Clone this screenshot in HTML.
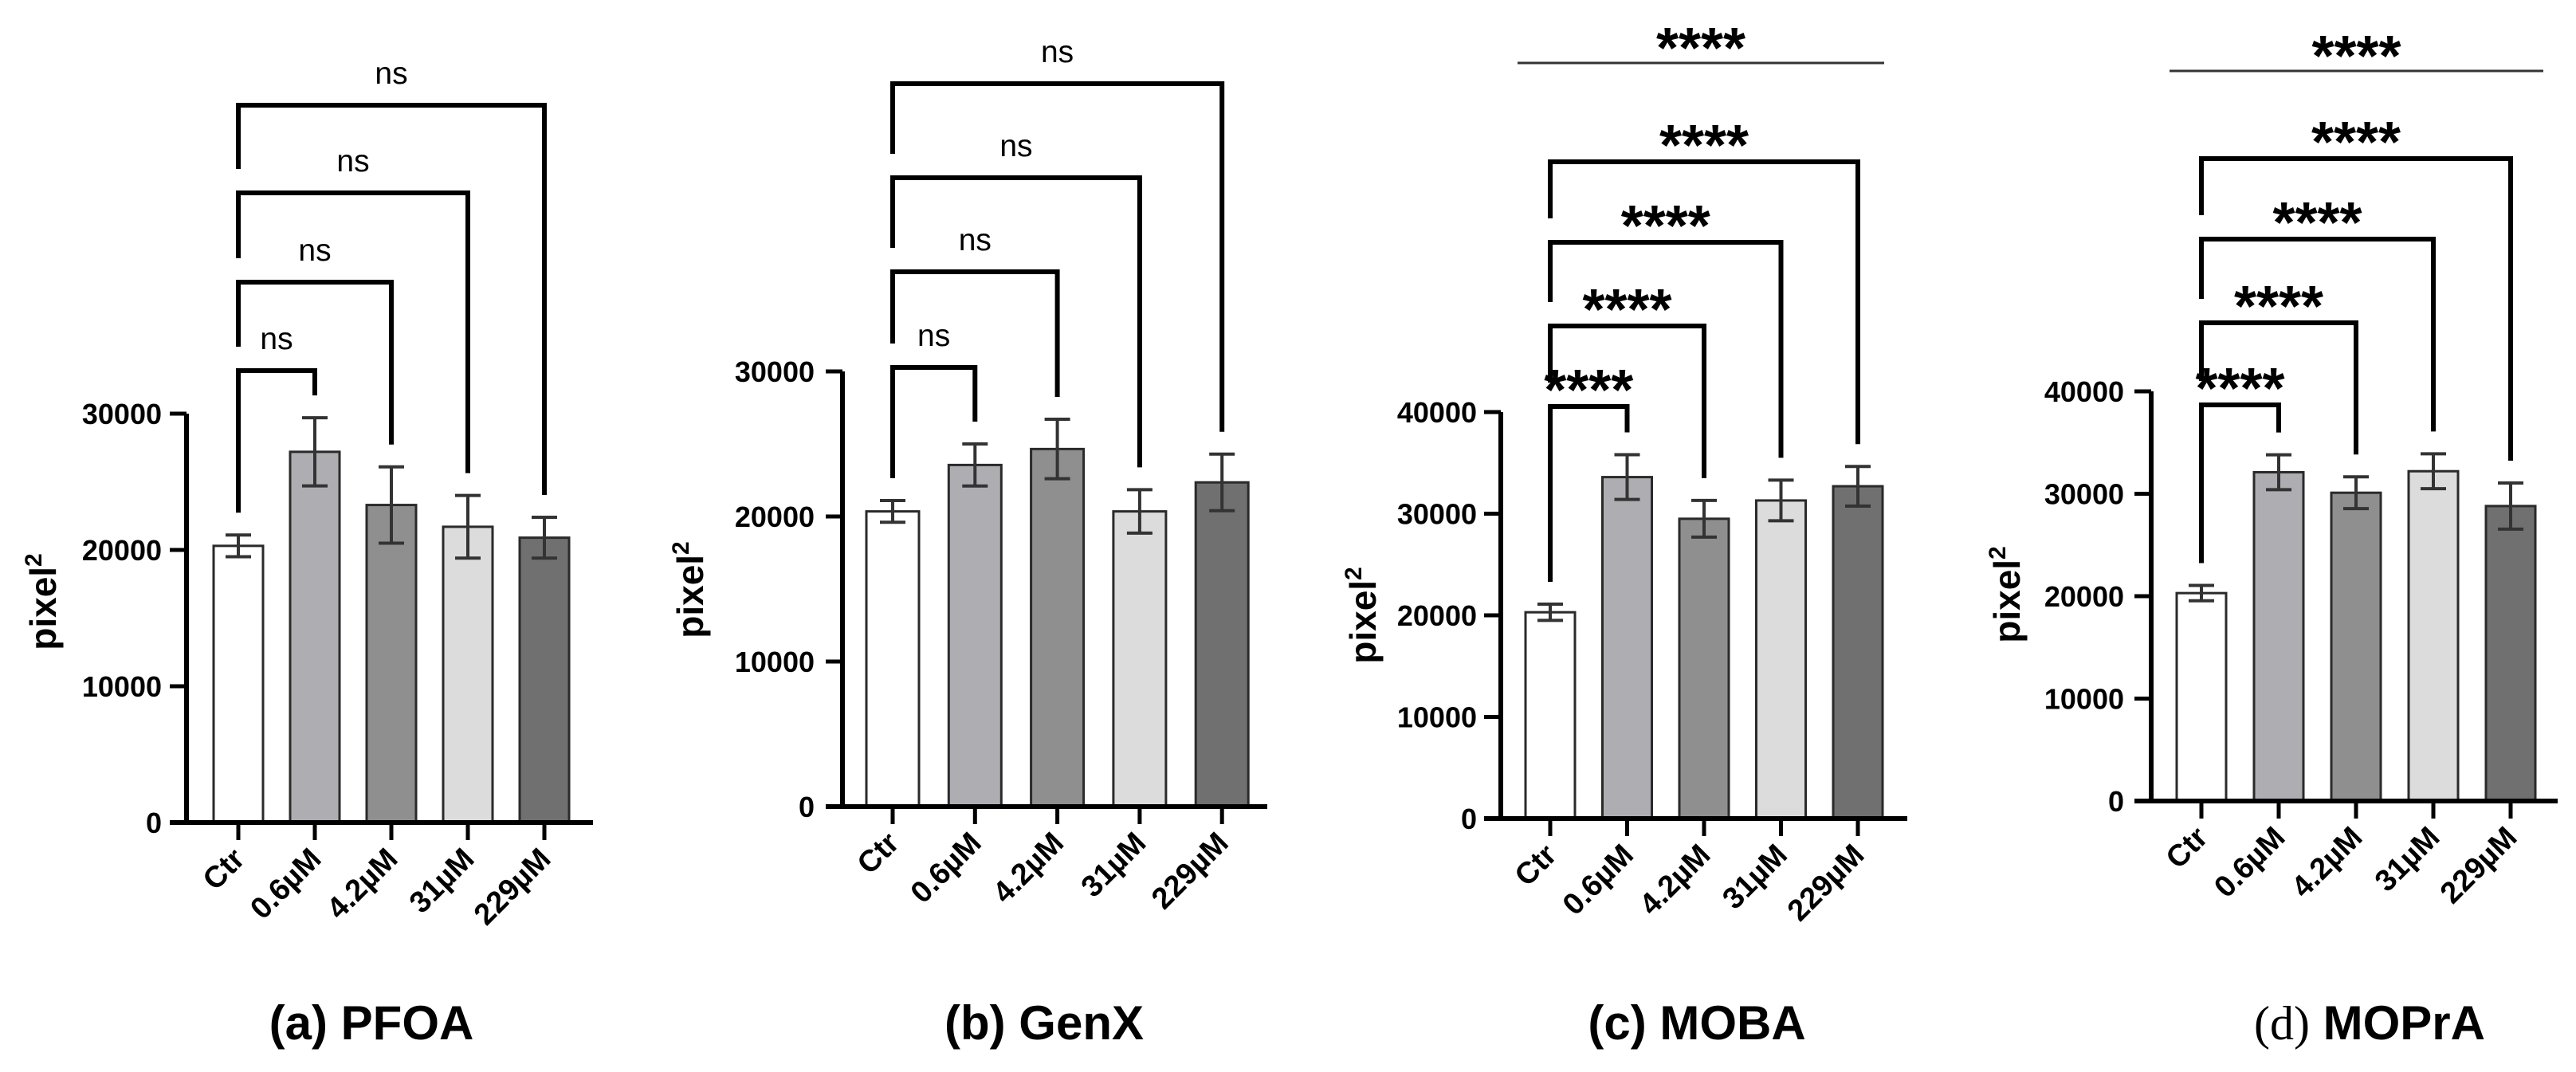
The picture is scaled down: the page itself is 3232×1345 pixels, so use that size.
<!DOCTYPE html>
<html><head><meta charset="utf-8"><style>
html,body{margin:0;padding:0;background:#fff;}
svg{display:block;font-family:"Liberation Sans",Arial,sans-serif;}
</style></head><body>
<svg id="fig" width="3232" height="1345" viewBox="0 0 3232 1345" xmlns="http://www.w3.org/2000/svg"></svg>
<script>
const categories = ["Ctr","0.6µM","4.2µM","31µM","229µM"];
const pfoaMeans = [20300,27200,23300,21700,20900];
const pfoaErr = [800,2500,2800,2300,1500];
const genxMeans = [20350,23550,24650,20350,22350];
const genxErr = [750,1450,2050,1500,1950];
const mobaMeans = [20300,33600,29500,31300,32700];
const mobaErr = [800,2200,1800,2000,1950];
const mopraMeans = [20300,32100,30100,32200,28800];
const mopraErr = [750,1700,1550,1700,2250];
const ticksA = [0,10000,20000,30000];
const ticksB = [0,10000,20000,30000];
const ticksC = [0,10000,20000,30000,40000];
const ticksD = [0,10000,20000,30000,40000];
const sigA = ["ns","ns","ns","ns"];
const sigB = ["ns","ns","ns","ns"];
const sigC = ["****","****","****","****"];
const sigD = ["****","****","****","****"];
const titles = ["PFOA","GenX","MOBA","MOPrA"];
const letters = ["(a)","(b)","(c)","(d)"];

const fills = ["#ffffff","#aeadb2","#8f8f8f","#dcdcdc","#707070"];
const NS = "http://www.w3.org/2000/svg";
const svg = document.getElementById("fig");
function mk(tag, attrs, parent){const e=document.createElementNS(NS,tag);for(const k in attrs)e.setAttribute(k,attrs[k]);(parent||svg).appendChild(e);return e;}

const panels = [
 {means:pfoaMeans, err:pfoaErr, ticks:ticksA, sig:sigA, ax:234, x0:299, step:96, bw:62, base:1032, pxPer:171/10000, xEnd:744, tickLblR:203, ylx:54, yly:755, brTops:[465,354,242,132], titleX:466, top:null},
 {means:genxMeans, err:genxErr, ticks:ticksB, sig:sigB, ax:1057, x0:1120, step:103.3, bw:66, base:1012, pxPer:182/10000, xEnd:1590, tickLblR:1022, ylx:866, yly:740, brTops:[461,341,223,105], titleX:1310, top:null},
 {means:mobaMeans, err:mobaErr, ticks:ticksC, sig:sigC, ax:1883, x0:1945, step:96.5, bw:62, base:1027, pxPer:127.5/10000, xEnd:2393, tickLblR:1853, ylx:1710, yly:772, brTops:[510,409,304,203], titleX:2129, top:{y:79,x1:1904,x2:2364}},
 {means:mopraMeans, err:mopraErr, ticks:ticksD, sig:sigD, ax:2699, x0:2762, step:97, bw:62, base:1005, pxPer:128.5/10000, xEnd:3209, tickLblR:2665, ylx:2518, yly:746, brTops:[508,405,300,199], titleX:2973, top:{y:89,x1:2722,x2:3191}}
];

panels.forEach((p,pi)=>{
  const g = mk("g",{});
  
  
  const y = v => p.base - v*p.pxPer;
  const xc = i => p.x0 + i*p.step;
  const isStar = p.sig[0]==="****";
  // bars
  p.means.forEach((m,i)=>{
    const r = mk("rect",{x:xc(i)-p.bw/2,y:y(m),width:p.bw,height:p.base-y(m),fill:fills[i],stroke:"#2a2a2a","stroke-width":3},g);
    
    
    const e = mk("path",{d:`M${xc(i)},${y(m+p.err[i])}V${y(m-p.err[i])}M${xc(i)-16},${y(m+p.err[i])}h32M${xc(i)-16},${y(m-p.err[i])}h32`,stroke:"#333",fill:"none","stroke-width":4},g);
    
    
  });
  // axes
  const maxT = p.ticks[p.ticks.length-1];
  const ya = mk("path",{d:`M${p.ax},${y(maxT)}V${p.base}`,stroke:"#000","stroke-width":6,fill:"none"},g);
  
  
  const xa = mk("path",{d:`M${p.ax-21},${p.base}H${p.xEnd}`,stroke:"#000","stroke-width":6,fill:"none"},g);
  
  
  p.ticks.forEach(t=>{
    mk("path",{d:`M${p.ax-21},${y(t)}H${p.ax}`,stroke:"#000","stroke-width":5},g);
    const tl = mk("text",{x:p.tickLblR,y:y(t)+13,"text-anchor":"end","font-size":36,"font-weight":"bold"},g);
    tl.textContent = t;
    
    
  });
  categories.forEach((c,i)=>{
    mk("path",{d:`M${xc(i)},${p.base}v22`,stroke:"#000","stroke-width":5},g);
    const t = mk("text",{x:0,y:0,"text-anchor":"end","font-size":38,"font-weight":"bold",transform:`translate(${xc(i)+10},${p.base+48}) rotate(-45)`},g);
    t.textContent = c;
    
    
  });
  // y label
  const yl = mk("text",{x:0,y:0,"text-anchor":"middle","font-size":46,"font-weight":"bold",transform:`translate(${p.ylx+16},${p.yly}) rotate(-90)`},g);
  yl.innerHTML = 'pixel<tspan font-size="30" dy="-18">2</tspan>';
  
  
  // brackets
  for(let k=0;k<4;k++){
    const tgt = k+1;
    const top = p.brTops[k];
    const rEnd = y(p.means[tgt]+p.err[tgt]) - 28;
    const lEnd = k===0 ? y(p.means[0]+p.err[0]) - 28 : p.brTops[k-1] - 30;
    const b = mk("path",{d:`M${xc(0)},${lEnd}V${top}H${xc(tgt)}V${rEnd}`,stroke:"#000","stroke-width":6,fill:"none"},g);
    
    
    const mx = (xc(0)+xc(tgt))/2;
    const st = mk("text",{x:mx,y:isStar? top-34+38 : top-27,"text-anchor":"middle","font-size":isStar?72:39,"font-weight":isStar?"bold":"normal"},g);
    st.textContent = p.sig[k];
    
    
  }
  if(p.top){
    const l = mk("path",{d:`M${p.top.x1},${p.top.y}H${p.top.x2}`,stroke:"#333","stroke-width":3},g);
    
    
    const st = mk("text",{x:(p.top.x1+p.top.x2)/2,y:p.top.y-32+38,"text-anchor":"middle","font-size":72,"font-weight":"bold"},g);
    st.textContent = "****";
    
    
  }
  // title
  const tt = mk("text",{x:p.titleX,y:1304,"text-anchor":"middle","font-size":60,"font-weight":"bold"},g);
  if(pi===3){
    tt.innerHTML = '<tspan font-family="Liberation Serif, serif" font-weight="normal">(d)</tspan> MOPrA';
  } else {
    tt.textContent = letters[pi]+" "+titles[pi];
  }
  
  
});
</script>
</body></html>
